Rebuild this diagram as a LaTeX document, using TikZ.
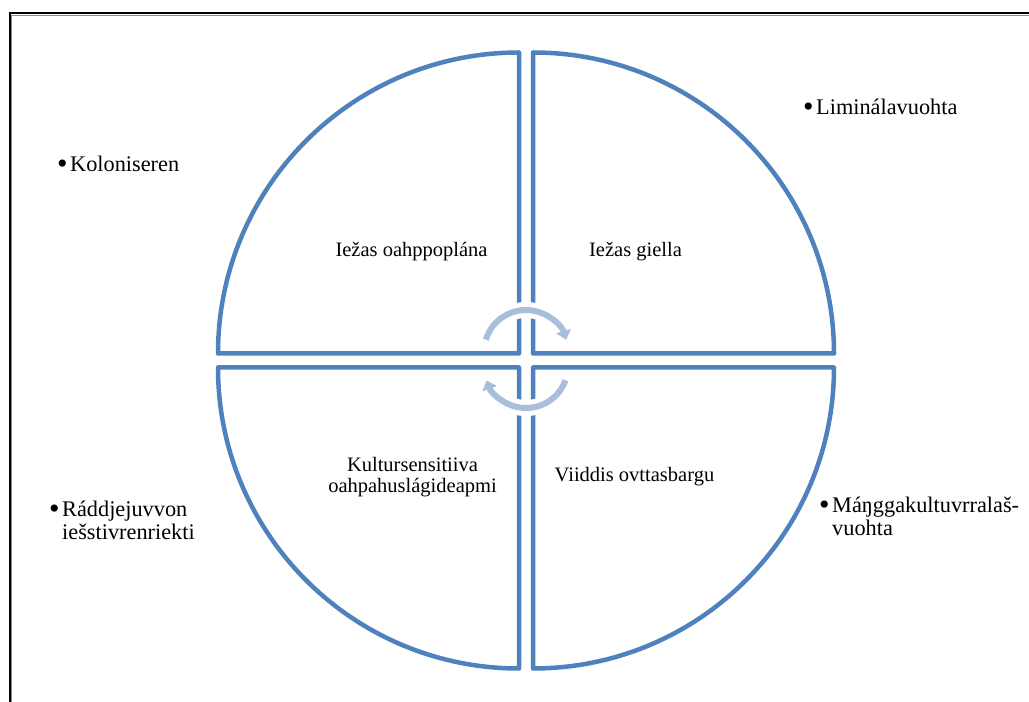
\documentclass[tikz,border=0pt]{standalone}
\usepackage{fontspec}
\setmainfont{Liberation Serif}
\usetikzlibrary{arrows.meta}
\definecolor{quadrant}{RGB}{79,129,189}
\definecolor{cycle}{RGB}{168,190,220}
\definecolor{frame}{RGB}{140,140,140}
\newcommand{\bigbullet}{\raisebox{-1.6pt}{\fontsize{30}{22}\selectfont\textbullet}\hspace{2.5pt}}

\begin{document}
\begin{tikzpicture}[
    x=1pt, y=1pt,
    quadrant/.style={draw=quadrant, line width=4.5pt, line join=round},
    cyclearc/.style={draw=cycle, line width=6pt, -{Triangle[length=9pt, width=15pt]}},
    halo/.style={draw=white, line width=16pt},
    outer/.style={font=\fontsize{22.3}{22}\selectfont, anchor=base west, inner sep=0pt},
    inner/.style={font=\fontsize{20.5}{20}\selectfont, anchor=base, inner sep=0pt}
]
\useasboundingbox (0,0) rectangle (1029,702);

% page frame
\draw[frame, line width=1pt] (11.5,0) -- (11.5,686.5) -- (1029,686.5);
\draw[black, line width=2pt] (9.5,0) -- (9.5,688.5) -- (1029,688.5);

% quadrants
\foreach \dx/\dy/\a in {-7/7/90, 7/7/0, -7/-7/180, 7/-7/270} {
    \draw[quadrant] (526+\dx, 341.5+\dy) -- ++(\a:301) arc[start angle=\a, delta angle=90, radius=301] -- cycle;
}

% cycle arrows
\draw[halo] (526,350) ++(163:42) arc[start angle=163, end angle=22, radius=42];
\draw[cyclearc] (526,350) ++(163:42) arc[start angle=163, end angle=17, radius=42];
\draw[halo] (526,336) ++(-20:42) arc[start angle=-20, end angle=-155, radius=42];
\draw[cyclearc] (526,336) ++(-20:42) arc[start angle=-20, end angle=-160, radius=42];

% inner labels
\node[inner] (plan) at (411.5,445) {Iežas oahppoplána};
\node[inner] (giella) at (635.5,445) {Iežas giella};
\node[inner] (kultur) at (412.5,230) {\begin{tabular}[t]{@{}c@{}}Kultursensitiiva\\oahpahuslágideapmi\end{tabular}};
\node[inner] (ovttas) at (634.5,220.3) {Viiddis ovttasbargu};

% outer labels
\node[outer] (kolon) at (57,530) {\bigbullet Koloniseren};
\node[outer] (limin) at (803,587) {\bigbullet Liminálavuohta};
\node[outer] (radd) at (49,185) {\bigbullet\begin{tabular}[t]{@{}l@{}}Ráddjejuvvon\\iešstivrenriekti\end{tabular}};
\node[outer] (mangga) at (819,189) {\bigbullet\begin{tabular}[t]{@{}l@{}}Máŋggakultuvrralaš-\\vuohta\end{tabular}};

\end{tikzpicture}
\end{document}
